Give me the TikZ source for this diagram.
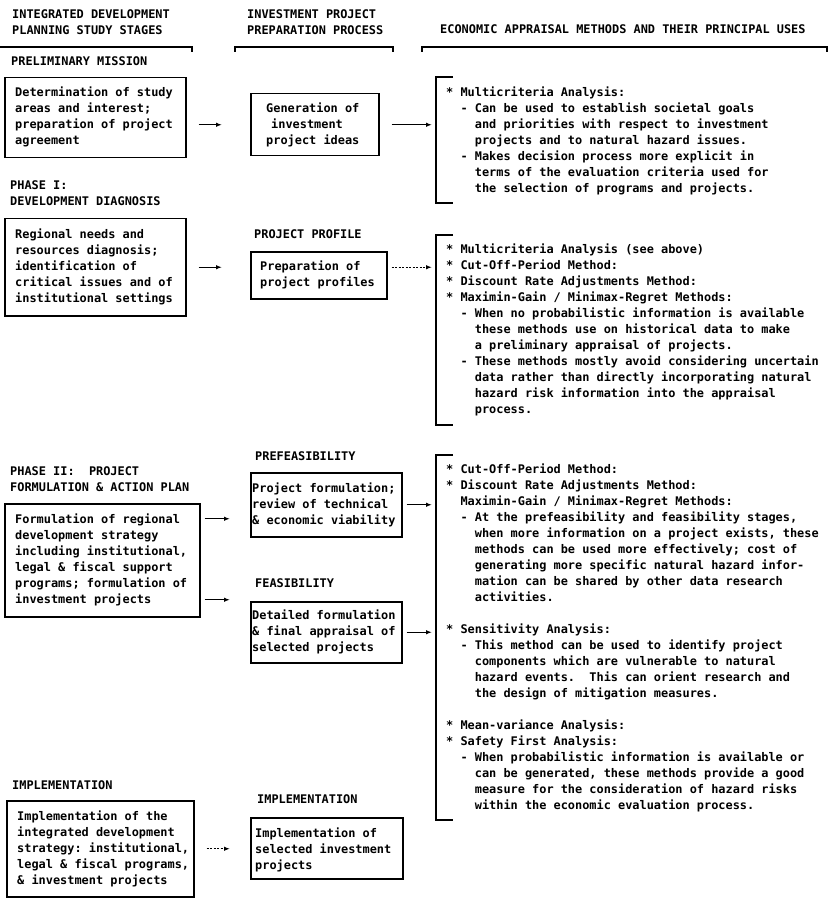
\documentclass[tikz,border=0pt]{standalone}
\usepackage{fontspec}
\setmonofont{DejaVu Sans Mono}
\usetikzlibrary{arrows.meta}
\newlength\cw \setlength\cw{7.164pt}
\newcommand\ind[1]{\hspace*{#1\cw}}
\newcommand\fl{\rule{0pt}{10pt}}
\begin{document}
\begin{tikzpicture}[x=1pt,y=-1pt,
  box/.style={draw, rectangle, line width=1.5pt, anchor=north west, inner sep=0pt},
  txt/.style={anchor=north west, inner sep=0pt, align=left,
    font=\ttfamily\bfseries\fontsize{11.9}{16}\selectfont\frenchspacing},
  arr/.style={line width=1.2pt, -{Latex[length=6pt,width=4.5pt]}},
  dotarr/.style={dash pattern=on 2pt off 1.5pt},
  brk/.style={line width=1.5pt}]
\useasboundingbox (0,0) rectangle (831,901);

% column headings
\node[txt] (h1) at (12,8) {\fl INTEGRATED DEVELOPMENT\\PLANNING STUDY STAGES};
\node[txt] (h2) at (247,8) {\fl INVESTMENT PROJECT\\PREPARATION PROCESS};
\node[txt] (h3) at (440,23) {\fl ECONOMIC APPRAISAL METHODS AND THEIR PRINCIPAL USES};
\draw[brk] (0,47) -- (192,47) -- (192,52);
\draw[brk] (235,52) -- (235,47) -- (393,47) -- (393,52);
\draw[brk] (422,52) -- (422,47) -- (827,47) -- (827,52);

% boxes
\node[box, minimum width=181pt, minimum height=80pt] (b1) at (4,77) {};
\node[box, minimum width=128pt, minimum height=62pt] (b2) at (250,93) {};
\node[box, minimum width=181pt, minimum height=97pt] (b3) at (4,218) {};
\node[box, minimum width=136pt, minimum height=47pt] (b4) at (250,251) {};
\node[box, minimum width=195pt, minimum height=113pt] (b5) at (4,503) {};
\node[box, minimum width=151pt, minimum height=64pt] (b6) at (250,472) {};
\node[box, minimum width=151pt, minimum height=61pt] (b7) at (250,601) {};
\node[box, minimum width=187pt, minimum height=96pt] (b8) at (6,800) {};
\node[box, minimum width=152pt, minimum height=61pt] (b9) at (250,817) {};

% right brackets
\coordinate (br1) at (436,77);
\coordinate (br2) at (436,235);
\coordinate (br3) at (436,455);
\draw[brk] ([xshift=17pt]br1) -- (br1) -- ++(0,126) -- ++(17,0);
\draw[brk] ([xshift=17pt]br2) -- (br2) -- ++(0,190) -- ++(17,0);
\draw[brk] ([xshift=17pt]br3) -- (br3) -- ++(0,365) -- ++(17,0);

% section labels
\node[txt] (pm) at (11,55) {\fl PRELIMINARY MISSION};
\node[txt] (p1) at (10,179) {\fl PHASE I:\\DEVELOPMENT DIAGNOSIS};
\node[txt] (pp) at (254,228) {\fl PROJECT PROFILE};
\node[txt] (pf) at (255,450) {\fl PREFEASIBILITY};
\node[txt] (p2) at (10,465) {\fl PHASE II:\ \ PROJECT\\FORMULATION \& ACTION PLAN};
\node[txt] (fs) at (255,577) {\fl FEASIBILITY};
\node[txt] (im1) at (12,779) {\fl IMPLEMENTATION};
\node[txt] (im2) at (257,793) {\fl IMPLEMENTATION};

% box texts
\node[txt] (t1) at (15,86) {\fl Determination of study\\areas and interest;\\preparation of project\\agreement};
\node[txt] (t2) at (266,102) {\fl Generation of\\\hspace*{5pt}investment\\project ideas};
\node[txt] (t3) at (15,228) {\fl Regional needs and\\resources diagnosis;\\identification of\\critical issues and of\\institutional settings};
\node[txt] (t4) at (260,260) {\fl Preparation of\\project profiles};
\node[txt] (t5) at (15,513) {\fl Formulation of regional\\development strategy\\including institutional,\\legal \& fiscal support\\programs; formulation of\\investment projects};
\node[txt] (t6) at (252,482) {\fl Project formulation;\\review of technical\\\& economic viability};
\node[txt] (t7) at (252,609) {\fl Detailed formulation\\\& final appraisal of\\selected projects};
\node[txt] (t8) at (17,810) {\fl Implementation of the\\integrated development\\strategy: institutional,\\legal \& fiscal programs,\\\& investment projects};
\node[txt] (t9) at (255,827) {\fl Implementation of\\selected investment\\projects};

% method texts
\node[txt] (r1) at (446,86) {\fl * Multicriteria Analysis:\\
\ind{2}- Can be used to establish societal goals\\
\ind{4}and priorities with respect to investment\\
\ind{4}projects and to natural hazard issues.\\
\ind{2}- Makes decision process more explicit in\\
\ind{4}terms of the evaluation criteria used for\\
\ind{4}the selection of programs and projects.};

\node[txt] (r2) at (446,243) {\fl * Multicriteria Analysis (see above)\\
* Cut-Off-Period Method:\\
* Discount Rate Adjustments Method:\\
* Maximin-Gain / Minimax-Regret Methods:\\
\ind{2}- When no probabilistic information is available\\
\ind{4}these methods use on historical data to make\\
\ind{4}a preliminary appraisal of projects.\\
\ind{2}- These methods mostly avoid considering uncertain\\
\ind{4}data rather than directly incorporating natural\\
\ind{4}hazard risk information into the appraisal\\
\ind{4}process.};

\node[txt] (r3) at (446,463) {\fl * Cut-Off-Period Method:\\
* Discount Rate Adjustments Method:\\
\ind{2}Maximin-Gain / Minimax-Regret Methods:\\
\ind{2}- At the prefeasibility and feasibility stages,\\
\ind{4}when more information on a project exists, these\\
\ind{4}methods can be used more effectively; cost of\\
\ind{4}generating more specific natural hazard infor-\\
\ind{4}mation can be shared by other data research\\
\ind{4}activities.\\[16pt]
* Sensitivity Analysis:\\
\ind{2}- This method can be used to identify project\\
\ind{4}components which are vulnerable to natural\\
\ind{4}hazard events.\ \ This can orient research and\\
\ind{4}the design of mitigation measures.\\[16pt]
* Mean-variance Analysis:\\
* Safety First Analysis:\\
\ind{2}- When probabilistic information is available or\\
\ind{4}can be generated, these methods provide a good\\
\ind{4}measure for the consideration of hazard risks\\
\ind{4}within the economic evaluation process.};

% arrows
\draw[arr, shorten <=12pt, shorten >=28pt] (b1.east |- b2.center) -- (b2.west);
\draw[arr, shorten <=12pt, shorten >=4pt] (b2.east) -- (b2.east -| br1);
\draw[arr, shorten <=12pt, shorten >=28pt] (b3.east) -- (b3.east -| b4.west);
\draw[arr, dotarr, shorten <=4pt, shorten >=4pt] ([yshift=8pt]b4.east) -- ([yshift=8pt]b4.east -| br2);
\draw[arr, shorten <=4pt, shorten >=20pt] ([yshift=41.5pt]b5.east) -- ([yshift=41.5pt]b5.east -| b6.west);
\draw[arr, shorten <=4pt, shorten >=20pt] ([yshift=-39.5pt]b5.east) -- ([yshift=-39.5pt]b5.east -| b7.west);
\draw[arr, shorten <=4pt, shorten >=4pt] (b6.east) -- (b6.east -| br3);
\draw[arr, shorten <=4pt, shorten >=4pt] (b7.east) -- (b7.east -| br3);
\draw[arr, dotarr, shorten <=12pt, shorten >=20pt] (b8.east) -- (b8.east -| b9.west);
\end{tikzpicture}
\end{document}
